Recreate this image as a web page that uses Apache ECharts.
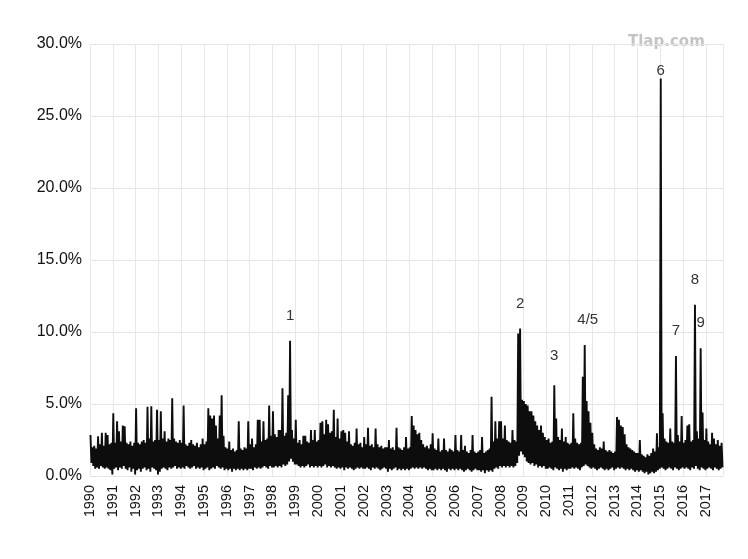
<!DOCTYPE html>
<html>
<head>
<meta charset="utf-8">
<script src="https://cdn.jsdelivr.net/npm/echarts@6/dist/echarts.min.js"></script>
<style>
  html, body { margin: 0; padding: 0; background: #fff; }
  #chart { width: 748px; height: 559px; }
</style>
</head>
<body>
<div id="chart"></div>
<script>
// one row per year, 12 months: highest and lowest reading in the month (%)
const years = [1990, 1991, 1992, 1993, 1994, 1995, 1996, 1997, 1998, 1999,
  2000, 2001, 2002, 2003, 2004, 2005, 2006, 2007, 2008, 2009,
  2010, 2011, 2012, 2013, 2014, 2015, 2016, 2017]

const monthlyHigh = [
  [2.85, 2.0, 2.1, 1.9, 2.75, 2.2, 3.0, 2.1, 3.0, 2.85, 2.2, 2.3],
  [4.35, 2.3, 3.8, 3.1, 2.4, 3.5, 3.45, 2.3, 2.2, 2.4, 2.1, 2.3],
  [4.7, 2.3, 2.2, 2.4, 2.5, 2.3, 4.8, 2.6, 4.85, 2.4, 2.5, 4.6],
  [2.5, 4.5, 2.6, 3.1, 2.4, 2.6, 2.5, 5.4, 2.6, 2.4, 2.3, 2.5],
  [2.3, 4.9, 2.2, 2.1, 2.3, 2.5, 2.2, 2.1, 2.3, 2.0, 2.2, 2.6],
  [2.2, 2.4, 4.7, 4.2, 4.0, 4.2, 3.5, 2.6, 4.2, 5.6, 2.8, 2.0],
  [1.9, 2.4, 1.8, 1.9, 1.7, 1.8, 3.8, 1.9, 1.8, 2.0, 1.9, 3.8],
  [2.2, 2.6, 2.0, 2.2, 3.9, 3.9, 2.4, 3.8, 2.5, 2.6, 4.9, 2.8],
  [4.5, 2.9, 2.7, 3.2, 3.2, 6.1, 2.8, 3.0, 5.6, 9.4, 3.2, 2.6],
  [3.9, 2.3, 2.5, 2.2, 2.8, 2.8, 2.4, 2.3, 3.2, 2.5, 3.2, 2.4],
  [2.5, 3.7, 3.8, 2.9, 3.9, 3.6, 3.0, 3.1, 4.6, 2.7, 4.0, 2.6],
  [3.1, 3.2, 3.0, 2.4, 3.1, 2.2, 2.1, 2.3, 3.3, 2.2, 2.3, 2.0],
  [2.7, 2.2, 3.35, 2.1, 2.2, 2.0, 3.3, 2.2, 2.0, 2.1, 1.9, 2.0],
  [2.0, 2.5, 1.9, 2.0, 1.8, 3.35, 2.0, 1.9, 1.8, 2.0, 2.7, 1.9],
  [2.0, 4.17, 3.5, 3.2, 2.9, 3.0, 2.5, 2.2, 2.0, 2.1, 1.9, 2.2],
  [2.96, 1.9, 1.8, 2.6, 1.7, 1.8, 2.6, 1.8, 1.7, 1.9, 1.8, 1.7],
  [2.85, 1.8, 1.7, 2.85, 1.8, 2.1, 1.7, 1.6, 1.8, 2.85, 1.7, 1.6],
  [1.7, 1.8, 2.7, 1.6, 1.7, 1.8, 1.9, 5.5, 2.4, 3.8, 2.6, 3.8],
  [3.8, 2.6, 3.5, 2.5, 2.4, 2.3, 3.2, 2.5, 2.4, 9.9, 10.25, 5.3],
  [5.2, 5.0, 4.9, 4.5, 4.5, 4.2, 3.8, 3.5, 3.2, 3.5, 3.0, 2.7],
  [2.5, 2.6, 2.3, 2.4, 6.3, 4.0, 2.7, 2.5, 3.3, 2.4, 2.7, 2.3],
  [2.2, 2.3, 4.35, 2.6, 2.3, 2.2, 2.3, 6.9, 9.1, 5.2, 4.5, 3.7],
  [3.0, 2.2, 1.9, 1.8, 2.0, 1.9, 2.4, 1.8, 1.7, 1.8, 1.7, 1.6],
  [1.7, 4.1, 3.9, 3.5, 3.4, 2.9, 2.2, 2.0, 1.9, 1.8, 1.7, 1.6],
  [1.6, 2.5, 1.5, 1.4, 1.3, 1.5, 1.4, 1.6, 1.9, 1.7, 2.96, 2.0],
  [27.6, 4.35, 2.6, 2.4, 2.3, 3.3, 2.4, 2.3, 8.33, 2.85, 2.4, 4.17],
  [2.3, 2.5, 3.5, 3.6, 2.4, 2.5, 11.9, 3.1, 2.6, 8.87, 4.4, 2.5],
  [3.3, 2.4, 2.2, 3.0, 2.6, 2.2, 2.5, 2.1, 2.3]
]

const monthlyLow = [
  [0.9, 0.7, 0.5, 0.6, 0.5, 0.7, 0.6, 0.5, 0.6, 0.5, 0.4, 0.1],
  [0.5, 0.6, 0.4, 0.6, 0.5, 0.7, 0.5, 0.4, 0.6, 0.3, 0.5, 0.1],
  [0.4, 0.5, 0.3, 0.5, 0.6, 0.4, 0.5, 0.3, 0.6, 0.5, 0.4, 0.1],
  [0.3, 0.5, 0.6, 0.5, 0.4, 0.6, 0.5, 0.6, 0.7, 0.5, 0.6, 0.5],
  [0.6, 0.5, 0.7, 0.6, 0.5, 0.6, 0.7, 0.5, 0.6, 0.5, 0.6, 0.4],
  [0.5, 0.6, 0.4, 0.5, 0.6, 0.5, 0.7, 0.6, 0.5, 0.6, 0.4, 0.5],
  [0.4, 0.5, 0.3, 0.5, 0.4, 0.5, 0.4, 0.5, 0.4, 0.5, 0.4, 0.5],
  [0.5, 0.4, 0.6, 0.5, 0.6, 0.5, 0.6, 0.7, 0.6, 0.5, 0.7, 0.6],
  [0.6, 0.7, 0.6, 0.7, 0.6, 0.8, 0.7, 0.8, 1.0, 1.2, 1.0, 0.8],
  [0.8, 0.7, 0.6, 0.7, 0.6, 0.7, 0.8, 0.6, 0.7, 0.6, 0.7, 0.6],
  [0.7, 0.6, 0.7, 0.8, 0.6, 0.7, 0.6, 0.7, 0.6, 0.5, 0.6, 0.5],
  [0.6, 0.4, 0.6, 0.5, 0.6, 0.5, 0.4, 0.5, 0.6, 0.5, 0.6, 0.5],
  [0.5, 0.6, 0.5, 0.4, 0.6, 0.5, 0.6, 0.5, 0.4, 0.5, 0.6, 0.5],
  [0.3, 0.5, 0.4, 0.5, 0.6, 0.4, 0.5, 0.4, 0.5, 0.4, 0.5, 0.4],
  [0.5, 0.6, 0.5, 0.6, 0.5, 0.6, 0.5, 0.6, 0.5, 0.4, 0.5, 0.4],
  [0.4, 0.5, 0.4, 0.5, 0.4, 0.5, 0.4, 0.3, 0.5, 0.4, 0.5, 0.4],
  [0.5, 0.4, 0.5, 0.4, 0.3, 0.4, 0.5, 0.4, 0.3, 0.4, 0.5, 0.4],
  [0.4, 0.3, 0.4, 0.2, 0.4, 0.3, 0.4, 0.3, 0.5, 0.6, 0.5, 0.7],
  [0.6, 0.7, 0.6, 0.7, 0.6, 0.7, 0.6, 0.7, 0.9, 1.4, 1.7, 1.5],
  [1.3, 1.0, 0.9, 0.8, 0.9, 0.7, 0.8, 0.6, 0.7, 0.6, 0.7, 0.5],
  [0.5, 0.6, 0.5, 0.4, 0.6, 0.5, 0.4, 0.5, 0.3, 0.5, 0.4, 0.5],
  [0.5, 0.6, 0.5, 0.6, 0.5, 0.4, 0.6, 0.7, 0.8, 0.7, 0.6, 0.5],
  [0.6, 0.5, 0.4, 0.5, 0.6, 0.5, 0.4, 0.5, 0.4, 0.5, 0.6, 0.4],
  [0.5, 0.6, 0.5, 0.6, 0.5, 0.4, 0.5, 0.4, 0.5, 0.4, 0.3, 0.4],
  [0.3, 0.4, 0.3, 0.2, 0.3, 0.1, 0.2, 0.3, 0.2, 0.3, 0.4, 0.5],
  [0.6, 0.5, 0.4, 0.5, 0.6, 0.5, 0.4, 0.6, 0.5, 0.4, 0.5, 0.6],
  [0.5, 0.6, 0.5, 0.4, 0.6, 0.5, 0.7, 0.5, 0.4, 0.6, 0.5, 0.4],
  [0.5, 0.6, 0.5, 0.4, 0.6, 0.5, 0.4, 0.5, 0.6]
]

// numbered events: year and month index of the spike
const eventLabels = ['1', '2', '3', '4/5', '6', '7', '8', '9']
const eventYears = [1998, 2008, 2010, 2011, 2015, 2015, 2016, 2016]
const eventMonths = [9, 10, 4, 8, 0, 8, 6, 9]

// high and low of each month placed in the first and second half of the month
function buildSeries() {
  const pts = []
  years.forEach((yr, i) => {
    monthlyHigh[i].forEach((hi, m) => {
      pts.push([yr + (m + 0.25) / 12, hi])
      pts.push([yr + (m + 0.75) / 12, monthlyLow[i][m]])
    })
  })
  return pts
}

const labelGap = { '6': 0, '3': 21 }

const eventPoints = eventLabels.map((lab, k) => {
  const yi = years.indexOf(eventYears[k])
  const m = eventMonths[k]
  return {
    name: lab,
    coord: [eventYears[k] + (m + 0.25) / 12, monthlyHigh[yi][m]],
    label: {
      distance: labelGap[lab] !== undefined ? labelGap[lab] : 17,
      offset: lab === '4/5' ? [3, 0] : [0, 0]
    }
  }
})

let myChart = echarts.init(document.getElementById('chart'))

const option = {
  animation: false,
  backgroundColor: '#fff',
  grid: { left: 90, right: 25, top: 44, bottom: 83 },
  xAxis: {
    type: 'value',
    min: 1990,
    max: 2017.75,
    interval: 1,
    axisLine: { show: false },
    axisTick: { show: false },
    splitLine: { show: true, lineStyle: { color: '#e8e8e8', width: 1 } },
    axisLabel: {
      rotate: 90,
      margin: 9,
      color: '#111',
      fontSize: 14.5,
      fontFamily: 'Liberation Sans, Arial, sans-serif',
      showMaxLabel: false,
      formatter: v => (Math.abs(v - Math.round(v)) < 1e-6 ? String(Math.round(v)) : '')
    }
  },
  yAxis: {
    type: 'value',
    min: 0,
    max: 30,
    interval: 5,
    axisLine: { show: false },
    axisTick: { show: false },
    splitLine: { show: true, lineStyle: { color: '#e4e4e4', width: 1 } },
    axisLabel: {
      margin: 8,
      color: '#111',
      fontSize: 16,
      fontFamily: 'Liberation Sans, Arial, sans-serif',
      formatter: v => v.toFixed(1) + '%'
    }
  },
  graphic: [{
    type: 'text',
    left: 628,
    top: 35,
    style: {
      text: 'Tlap.com',
      fill: '#c4c4c4',
      font: 'bold 15px "DejaVu Sans", sans-serif'
    }
  }],
  series: [{
    type: 'line',
    data: buildSeries(),
    showSymbol: false,
    sampling: 'none',
    lineStyle: { color: '#0d0d0d', width: 1.9, join: 'bevel', cap: 'butt' },
    markPoint: {
      symbol: 'circle',
      symbolSize: 1,
      itemStyle: { color: 'rgba(0,0,0,0)' },
      label: {
        show: true,
        position: 'top',
        formatter: '{b}',
        color: '#333',
        fontSize: 15,
        fontFamily: 'Liberation Sans, Arial, sans-serif'
      },
      data: eventPoints
    }
  }]
}

option && myChart.setOption(option)
</script>
</body>
</html>
